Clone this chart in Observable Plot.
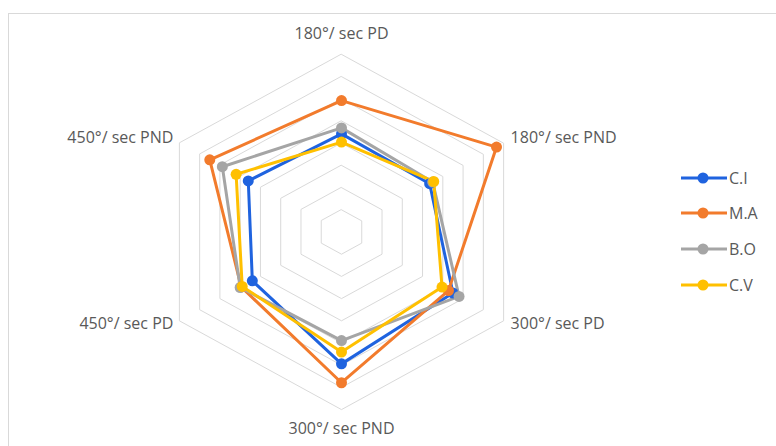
<!DOCTYPE html>
<html>
<head>
<meta charset="utf-8">
<script src="https://cdn.jsdelivr.net/npm/d3@7"></script>
<script src="https://cdn.jsdelivr.net/npm/@observablehq/plot@0.6"></script>
<style>
  html, body { margin: 0; padding: 0; background: #fff; }
  #wrap { position: relative; width: 776px; height: 446px; overflow: hidden; font-family: "Open Sans", "Liberation Sans", sans-serif; }
  #frame { position: absolute; left: 8px; top: 13px; width: 800px; height: 500px; border-left: 1.5px solid #d9d9d9; border-top: 1.5px solid #d9d9d9; }
  #legend { position: absolute; left: 680px; top: 0; }
  .item { position: absolute; left: 0; height: 20px; display: flex; align-items: center; white-space: nowrap; font-size: 16px; color: #595959; }
  .item svg { display: block; margin-right: 1px; }
  #chart { position: absolute; left: 0; top: 0; }
</style>
</head>
<body>
<div id="wrap">
  <div id="frame"></div>
  <div id="chart"></div>
  <div id="legend"></div>
</div>
<script>
// ---- data ----
const axes = ["180°/ sec PD", "180°/ sec PND", "300°/ sec PD", "300°/ sec PND", "450°/ sec PD", "450°/ sec PND"];
const seriesNames = ["C.I", "M.A", "B.O", "C.V"];
const valuesCI = [4.42, 4.35, 5.50, 5.94, 4.40, 4.60];
const valuesMA = [5.92, 7.65, 5.28, 6.79, 4.95, 6.50];
const valuesBO = [4.69, 4.50, 5.80, 4.89, 5.00, 5.88];
const valuesCV = [4.05, 4.55, 4.96, 5.41, 4.90, 5.20];
const ringLevels = [1, 2, 3, 4, 5, 6, 7, 8];
const colors = ["#1f63df", "#f27b2c", "#a5a5a5", "#ffc000"];

// ---- build tables ----
const n = axes.length;
const ang = i => i * 2 * Math.PI / n;
const seriesValues = [valuesCI, valuesMA, valuesBO, valuesCV];
const points = [];
seriesNames.forEach((s, k) => {
  seriesValues[k].forEach((v, i) => {
    points.push({series: s, axis: axes[i], i, value: v, x: v * Math.sin(ang(i)), y: v * Math.cos(ang(i))});
  });
});
const rings = [];
ringLevels.forEach(r => {
  axes.forEach((a, i) => rings.push({ring: r, i, x: r * Math.sin(ang(i)), y: r * Math.cos(ang(i))}));
});
const outer = ringLevels[ringLevels.length - 1];
const labels = axes.map((a, i) => ({label: a, i, x: outer * Math.sin(ang(i)), y: outer * Math.cos(ang(i))}));

// ---- layout (pixel per unit, centre) ----
const W = 776, H = 446, cx = 341, cy = 231.5, ux = 23.4, uy = 22.2;

const chart = Plot.plot({
  width: W,
  height: H,
  margin: 0,
  x: {type: "linear", domain: [-cx / ux, (W - cx) / ux], range: [0, W], axis: null},
  y: {type: "linear", domain: [-(H - cy) / uy, cy / uy], range: [H, 0], axis: null},
  color: {domain: seriesNames, range: colors},
  style: {fontFamily: "'Open Sans', 'Liberation Sans', sans-serif", background: "transparent"},
  marks: [
    Plot.line(rings, {x: "x", y: "y", z: "ring", curve: "linear-closed", stroke: "#d9d9d9", strokeWidth: 1}),
    ...seriesNames.map(s => Plot.line(points.filter(d => d.series === s), {x: "x", y: "y", stroke: "series", curve: "linear-closed", strokeWidth: 3, strokeLinejoin: "round"})),
    ...seriesNames.map(s => Plot.dot(points.filter(d => d.series === s), {x: "x", y: "y", fill: "series", r: 5.5})),
    Plot.text(labels.filter(d => d.i === 0), {x: "x", y: "y", text: "label", dy: -21, textAnchor: "middle", fontSize: 16, fill: "#595959"}),
    Plot.text(labels.filter(d => d.i === 3), {x: "x", y: "y", text: "label", dy: 19, textAnchor: "middle", fontSize: 16, fill: "#595959"}),
    Plot.text(labels.filter(d => d.i === 1), {x: "x", y: "y", text: "label", dx: 7, dy: -5, textAnchor: "start", fontSize: 16, fill: "#595959"}),
    Plot.text(labels.filter(d => d.i === 2), {x: "x", y: "y", text: "label", dx: 7, dy: 3, textAnchor: "start", fontSize: 16, fill: "#595959"}),
    Plot.text(labels.filter(d => d.i === 4), {x: "x", y: "y", text: "label", dx: -6, dy: 3, textAnchor: "end", fontSize: 16, fill: "#595959"}),
    Plot.text(labels.filter(d => d.i === 5), {x: "x", y: "y", text: "label", dx: -6, dy: -5, textAnchor: "end", fontSize: 16, fill: "#595959"})
  ]
});
document.getElementById("chart").appendChild(chart);

// ---- legend ----
const legendY = [178, 213, 249, 285];
const legend = document.getElementById("legend");
seriesNames.forEach((s, k) => {
  const item = document.createElement("div");
  item.className = "item";
  item.style.top = (legendY[k] - 10) + "px";
  item.innerHTML = `<svg width="48" height="14"><line x1="1" y1="7" x2="47" y2="7" stroke="${colors[k]}" stroke-width="3"/><circle cx="23" cy="7" r="5.5" fill="${colors[k]}"/></svg><span>${s}</span>`;
  legend.appendChild(item);
});
</script>
</body>
</html>
